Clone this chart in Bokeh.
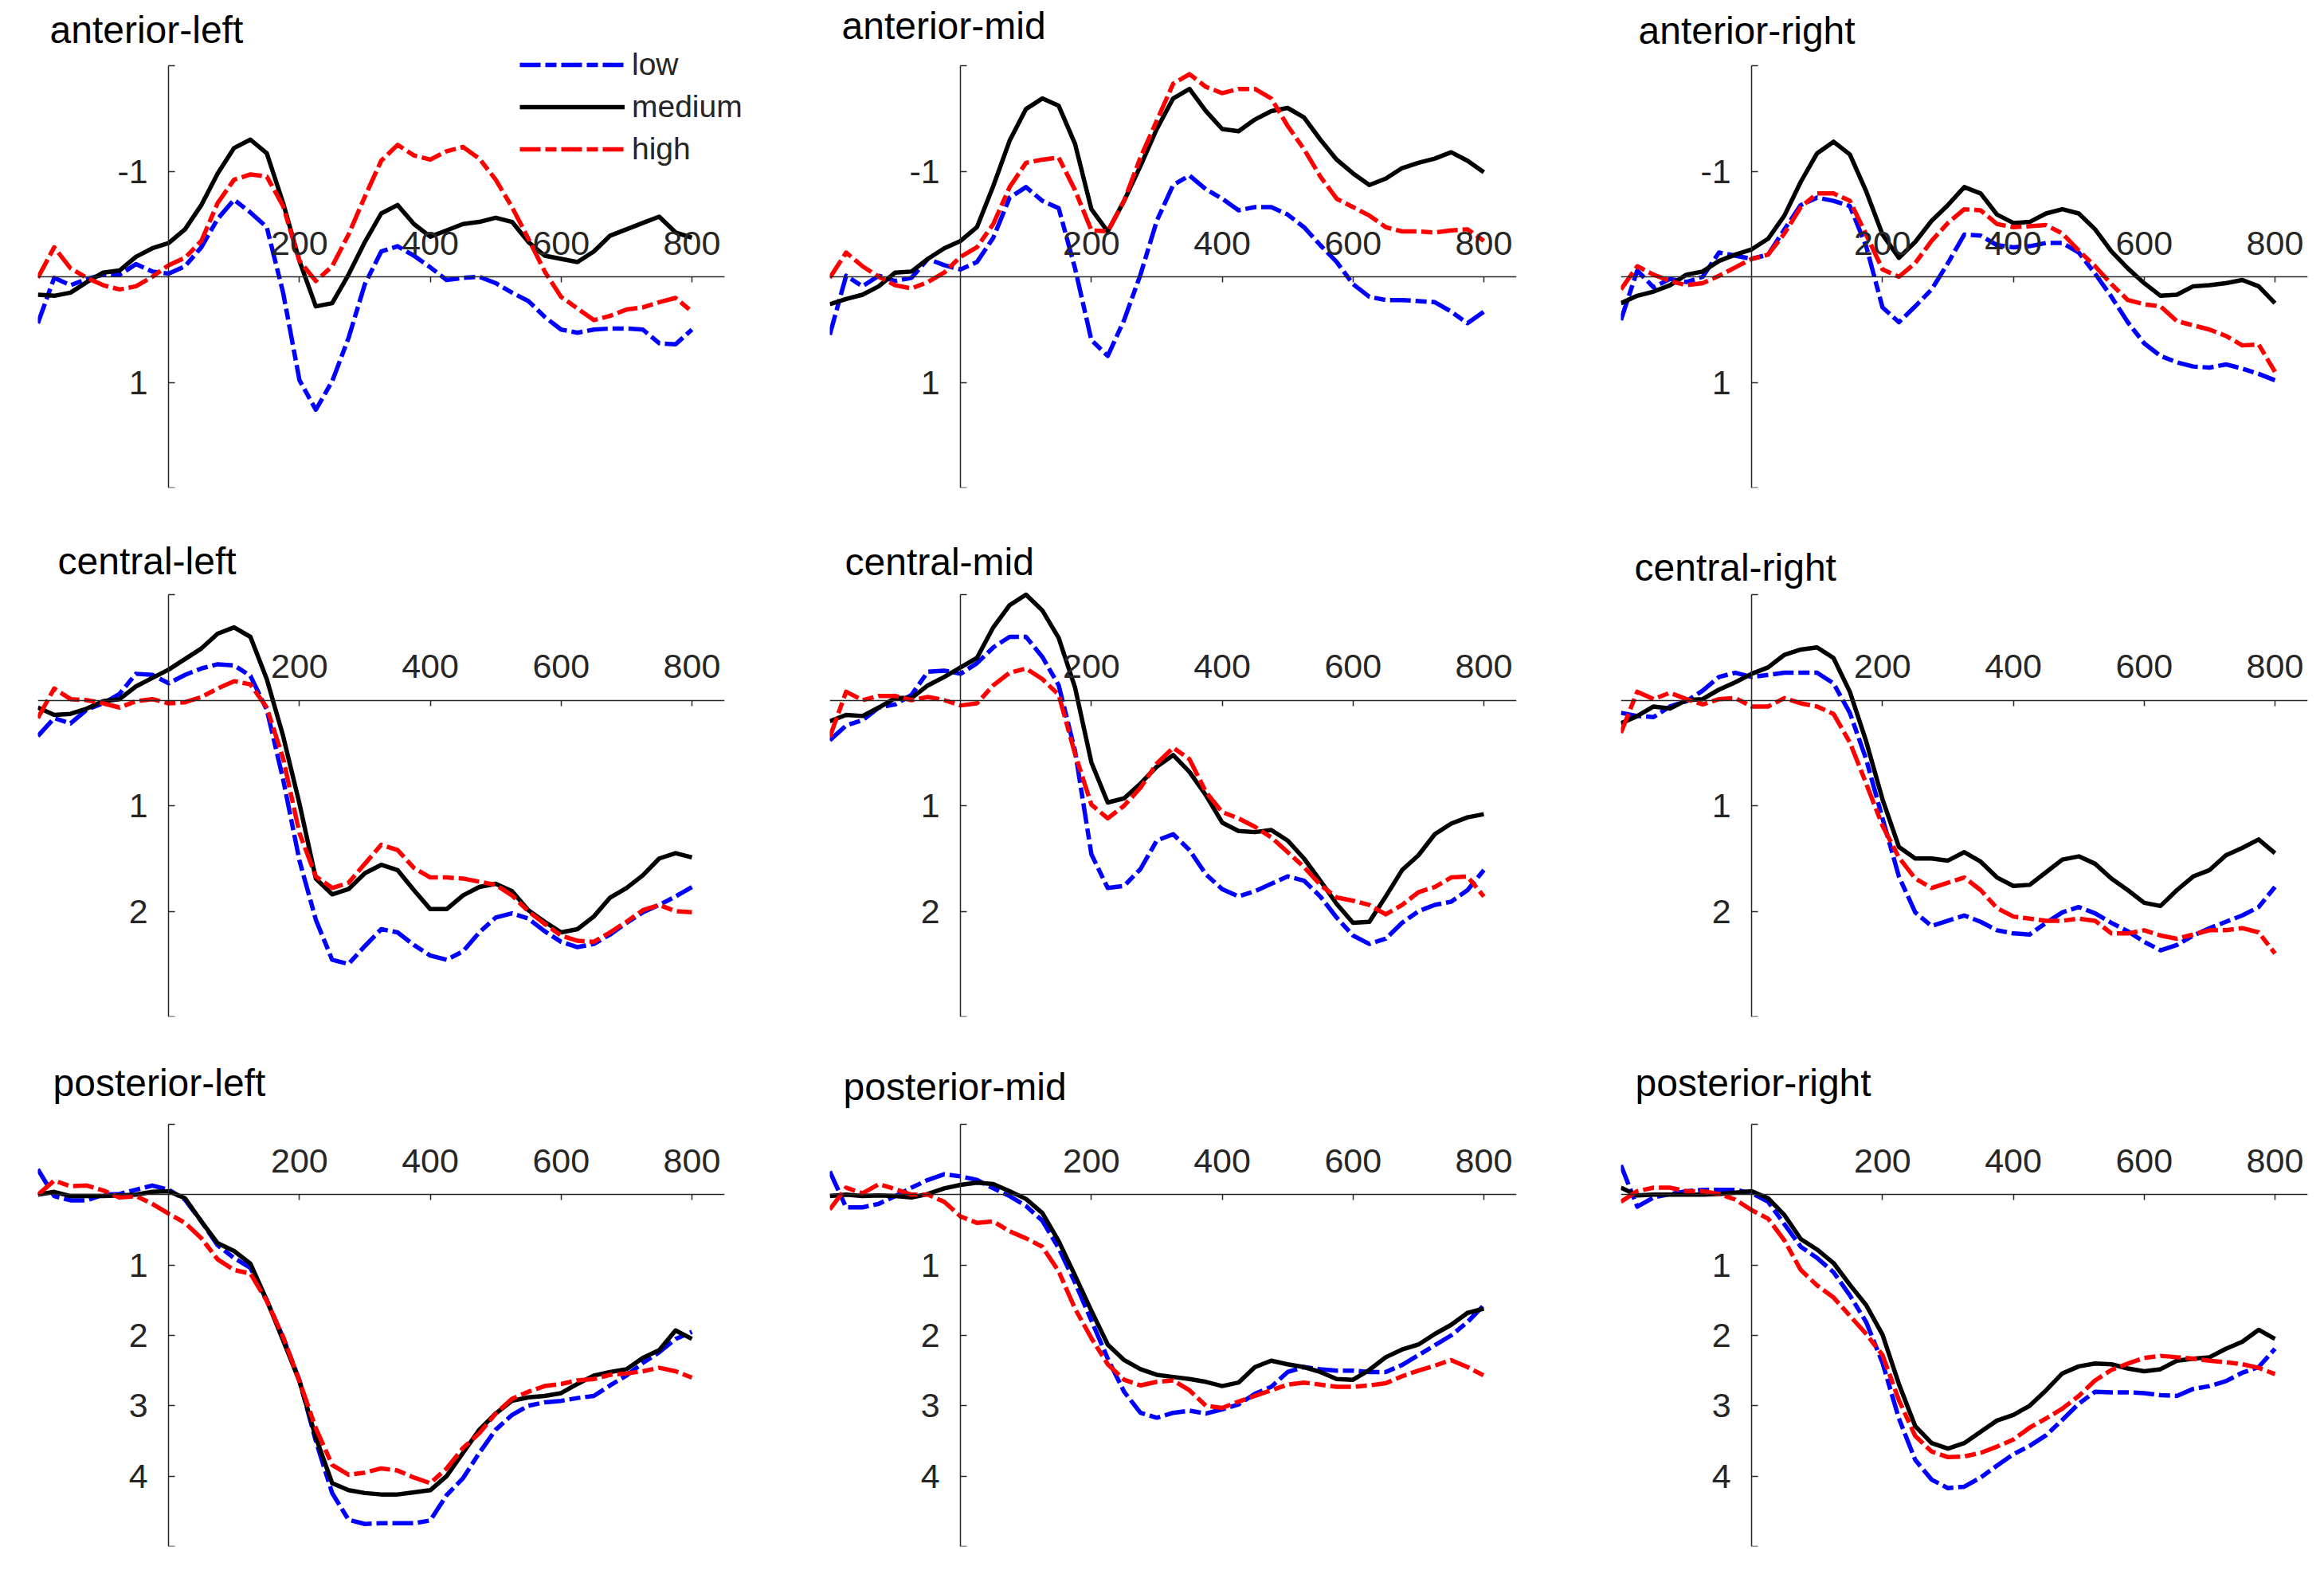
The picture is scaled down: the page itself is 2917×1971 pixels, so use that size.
from bokeh.plotting import figure
from bokeh.models import Range1d, LinearAxis, FixedTicker, Legend, LegendItem
from bokeh.layouts import column, row
from bokeh.embed import file_html
from bokeh.resources import INLINE

# ---------------- data (ms, microvolts; negative plotted upward) ----------------
time_ms = [-200, -175, -150, -125, -100, -75, -50, -25, 0, 25, 50, 75, 100, 125, 150, 175,
           200, 225, 250, 275, 300, 325, 350, 375, 400, 425, 450, 475, 500, 525, 550, 575,
           600, 625, 650, 675, 700, 725, 750, 775, 800]

x_ticks = [200, 400, 600, 800]
series_names = ["low", "medium", "high"]

anterior_left_low = [0.44, 0.01, 0.08, 0.02, -0.02, -0.02, -0.12, -0.05, -0.03, -0.10, -0.28, -0.55, -0.73, -0.61, -0.47, 0.15, 0.98, 1.26, 0.99, 0.58, 0.07, -0.24, -0.29, -0.20, -0.09, 0.03, 0.01, 0.00, 0.06, 0.15, 0.23, 0.38, 0.50, 0.53, 0.50, 0.49, 0.49, 0.50, 0.63, 0.64, 0.50]
anterior_left_medium = [0.17, 0.18, 0.15, 0.05, -0.04, -0.06, -0.19, -0.27, -0.32, -0.45, -0.68, -0.98, -1.22, -1.30, -1.17, -0.70, -0.15, 0.28, 0.25, -0.02, -0.33, -0.60, -0.68, -0.50, -0.38, -0.44, -0.50, -0.52, -0.56, -0.52, -0.33, -0.20, -0.17, -0.14, -0.24, -0.39, -0.45, -0.51, -0.57, -0.42, -0.37]
anterior_left_high = [0.01, -0.28, -0.08, 0.01, 0.08, 0.12, 0.09, 0.00, -0.11, -0.18, -0.34, -0.70, -0.92, -0.97, -0.95, -0.67, -0.15, 0.04, -0.10, -0.40, -0.76, -1.10, -1.25, -1.15, -1.11, -1.19, -1.23, -1.12, -0.92, -0.66, -0.36, -0.05, 0.19, 0.30, 0.41, 0.37, 0.31, 0.29, 0.24, 0.20, 0.33]

anterior_mid_low = [0.55, -0.01, 0.09, -0.01, 0.04, 0.01, -0.17, -0.11, -0.07, -0.14, -0.37, -0.75, -0.85, -0.72, -0.65, -0.08, 0.60, 0.75, 0.41, -0.02, -0.53, -0.87, -0.96, -0.83, -0.74, -0.63, -0.66, -0.66, -0.59, -0.47, -0.30, -0.14, 0.07, 0.19, 0.22, 0.22, 0.23, 0.24, 0.33, 0.44, 0.33]
anterior_mid_medium = [0.26, 0.21, 0.17, 0.09, -0.04, -0.05, -0.17, -0.27, -0.34, -0.47, -0.86, -1.29, -1.59, -1.69, -1.62, -1.26, -0.64, -0.43, -0.72, -1.05, -1.40, -1.69, -1.78, -1.57, -1.40, -1.38, -1.49, -1.57, -1.60, -1.51, -1.30, -1.11, -0.98, -0.87, -0.93, -1.03, -1.08, -1.12, -1.18, -1.10, -0.99]
anterior_mid_high = [0.01, -0.23, -0.10, 0.00, 0.08, 0.11, 0.05, -0.04, -0.19, -0.28, -0.50, -0.85, -1.08, -1.11, -1.13, -0.82, -0.44, -0.43, -0.72, -1.13, -1.48, -1.83, -1.92, -1.80, -1.74, -1.78, -1.78, -1.69, -1.43, -1.21, -0.95, -0.74, -0.66, -0.58, -0.47, -0.43, -0.43, -0.42, -0.44, -0.45, -0.34]

anterior_right_low = [0.41, -0.06, 0.10, 0.02, 0.05, 0.00, -0.23, -0.20, -0.17, -0.21, -0.45, -0.68, -0.75, -0.72, -0.67, -0.29, 0.29, 0.43, 0.28, 0.12, -0.13, -0.40, -0.39, -0.30, -0.28, -0.29, -0.32, -0.32, -0.23, -0.03, 0.19, 0.43, 0.63, 0.75, 0.81, 0.85, 0.86, 0.83, 0.87, 0.92, 0.98]
anterior_right_medium = [0.25, 0.18, 0.14, 0.08, -0.02, -0.05, -0.15, -0.21, -0.26, -0.36, -0.58, -0.90, -1.17, -1.28, -1.16, -0.81, -0.40, -0.18, -0.33, -0.53, -0.68, -0.85, -0.79, -0.59, -0.51, -0.52, -0.60, -0.64, -0.60, -0.45, -0.24, -0.08, 0.06, 0.18, 0.17, 0.09, 0.08, 0.06, 0.03, 0.09, 0.25]
anterior_right_high = [0.12, -0.10, -0.02, 0.04, 0.08, 0.06, -0.01, -0.09, -0.17, -0.21, -0.41, -0.66, -0.79, -0.79, -0.72, -0.40, -0.07, 0.00, -0.13, -0.34, -0.51, -0.64, -0.63, -0.50, -0.47, -0.48, -0.49, -0.41, -0.25, -0.10, 0.07, 0.22, 0.26, 0.28, 0.42, 0.46, 0.50, 0.56, 0.65, 0.64, 0.90]

central_left_low = [0.34, 0.17, 0.22, 0.09, 0.03, -0.06, -0.25, -0.24, -0.16, -0.24, -0.30, -0.34, -0.33, -0.23, 0.09, 0.75, 1.52, 2.08, 2.46, 2.50, 2.33, 2.17, 2.20, 2.32, 2.42, 2.46, 2.38, 2.20, 2.06, 2.02, 2.07, 2.19, 2.29, 2.34, 2.31, 2.22, 2.11, 2.01, 1.94, 1.86, 1.77]
central_left_medium = [0.07, 0.14, 0.13, 0.08, 0.01, -0.01, -0.13, -0.21, -0.29, -0.39, -0.49, -0.63, -0.69, -0.60, -0.20, 0.34, 0.98, 1.69, 1.84, 1.79, 1.64, 1.56, 1.61, 1.80, 1.98, 1.98, 1.85, 1.77, 1.74, 1.81, 1.99, 2.10, 2.20, 2.17, 2.05, 1.87, 1.78, 1.66, 1.50, 1.45, 1.49]
central_left_high = [0.17, -0.11, -0.01, 0.00, 0.03, 0.07, 0.01, -0.01, 0.03, 0.02, -0.03, -0.11, -0.18, -0.15, 0.07, 0.55, 1.26, 1.67, 1.78, 1.73, 1.55, 1.37, 1.42, 1.59, 1.68, 1.68, 1.69, 1.72, 1.75, 1.85, 2.00, 2.12, 2.23, 2.28, 2.29, 2.20, 2.10, 1.99, 1.94, 2.00, 2.01]

central_mid_low = [0.38, 0.24, 0.19, 0.07, 0.04, -0.05, -0.27, -0.28, -0.25, -0.35, -0.50, -0.60, -0.60, -0.41, -0.14, 0.48, 1.46, 1.78, 1.76, 1.60, 1.33, 1.27, 1.42, 1.65, 1.79, 1.86, 1.81, 1.74, 1.67, 1.71, 1.86, 2.06, 2.23, 2.31, 2.26, 2.11, 2.00, 1.94, 1.91, 1.80, 1.61]
central_mid_medium = [0.20, 0.14, 0.15, 0.07, -0.02, -0.02, -0.14, -0.22, -0.31, -0.40, -0.69, -0.90, -1.00, -0.85, -0.59, -0.12, 0.59, 0.97, 0.93, 0.79, 0.63, 0.52, 0.68, 0.90, 1.16, 1.24, 1.25, 1.23, 1.33, 1.50, 1.71, 1.93, 2.11, 2.10, 1.86, 1.61, 1.47, 1.27, 1.17, 1.11, 1.08]
central_mid_high = [0.35, -0.08, 0.00, -0.04, -0.04, 0.00, -0.03, 0.00, 0.05, 0.03, -0.14, -0.26, -0.30, -0.20, -0.05, 0.51, 0.99, 1.12, 1.00, 0.83, 0.60, 0.45, 0.56, 0.87, 1.06, 1.12, 1.20, 1.30, 1.44, 1.58, 1.75, 1.87, 1.90, 1.94, 2.03, 1.94, 1.82, 1.77, 1.68, 1.67, 1.86]

central_right_low = [0.12, 0.15, 0.16, 0.06, 0.01, -0.09, -0.22, -0.26, -0.22, -0.24, -0.26, -0.26, -0.26, -0.16, 0.12, 0.56, 1.12, 1.67, 2.01, 2.14, 2.09, 2.04, 2.10, 2.18, 2.21, 2.22, 2.11, 2.01, 1.96, 2.02, 2.11, 2.19, 2.29, 2.37, 2.32, 2.23, 2.16, 2.10, 2.04, 1.96, 1.77]
central_right_medium = [0.22, 0.15, 0.06, 0.08, 0.00, -0.01, -0.10, -0.17, -0.25, -0.31, -0.43, -0.48, -0.50, -0.40, -0.08, 0.39, 0.94, 1.39, 1.50, 1.50, 1.52, 1.44, 1.53, 1.68, 1.76, 1.75, 1.63, 1.51, 1.48, 1.55, 1.69, 1.80, 1.92, 1.95, 1.80, 1.67, 1.61, 1.47, 1.40, 1.32, 1.45]
central_right_high = [0.31, -0.08, -0.01, -0.07, -0.01, 0.04, -0.01, -0.02, 0.06, 0.06, -0.02, 0.03, 0.06, 0.13, 0.40, 0.79, 1.19, 1.49, 1.69, 1.78, 1.73, 1.68, 1.80, 1.97, 2.05, 2.07, 2.09, 2.09, 2.07, 2.09, 2.21, 2.21, 2.18, 2.23, 2.26, 2.22, 2.18, 2.18, 2.16, 2.20, 2.40]

posterior_left_low = [-0.36, 0.02, 0.08, 0.08, 0.00, -0.01, -0.07, -0.13, -0.07, 0.07, 0.38, 0.72, 0.90, 1.04, 1.50, 2.03, 2.64, 3.50, 4.24, 4.62, 4.68, 4.67, 4.67, 4.67, 4.63, 4.27, 4.03, 3.67, 3.34, 3.13, 3.00, 2.95, 2.93, 2.89, 2.86, 2.71, 2.57, 2.39, 2.24, 2.05, 1.95]
posterior_left_medium = [0.00, -0.04, 0.02, 0.02, 0.02, 0.01, 0.00, -0.04, -0.05, 0.05, 0.38, 0.69, 0.80, 0.98, 1.50, 2.07, 2.65, 3.45, 4.10, 4.20, 4.24, 4.26, 4.26, 4.23, 4.20, 4.00, 3.67, 3.34, 3.11, 2.93, 2.88, 2.86, 2.82, 2.69, 2.57, 2.52, 2.48, 2.32, 2.21, 1.93, 2.05]
posterior_left_high = [0.00, -0.20, -0.12, -0.13, -0.06, 0.04, 0.02, 0.13, 0.27, 0.40, 0.62, 0.92, 1.07, 1.12, 1.51, 2.02, 2.65, 3.32, 3.84, 3.98, 3.95, 3.89, 3.92, 4.02, 4.10, 3.89, 3.60, 3.39, 3.11, 2.90, 2.80, 2.72, 2.69, 2.64, 2.62, 2.56, 2.54, 2.51, 2.46, 2.51, 2.60]

posterior_mid_low = [-0.33, 0.18, 0.18, 0.13, 0.02, -0.10, -0.21, -0.29, -0.26, -0.21, -0.09, 0.02, 0.16, 0.37, 0.76, 1.25, 1.79, 2.33, 2.80, 3.10, 3.17, 3.10, 3.07, 3.11, 3.05, 2.98, 2.83, 2.73, 2.52, 2.45, 2.48, 2.50, 2.50, 2.52, 2.52, 2.42, 2.28, 2.14, 2.00, 1.81, 1.57]
posterior_mid_medium = [0.02, 0.00, 0.02, 0.01, 0.02, 0.04, -0.01, -0.09, -0.14, -0.17, -0.15, -0.05, 0.06, 0.26, 0.66, 1.15, 1.65, 2.13, 2.35, 2.48, 2.56, 2.59, 2.62, 2.66, 2.72, 2.67, 2.45, 2.36, 2.41, 2.45, 2.52, 2.62, 2.63, 2.49, 2.31, 2.20, 2.13, 1.98, 1.85, 1.68, 1.62]
posterior_mid_high = [0.21, -0.10, -0.02, -0.15, -0.08, 0.00, 0.00, 0.10, 0.31, 0.40, 0.38, 0.52, 0.62, 0.74, 1.09, 1.62, 2.04, 2.41, 2.63, 2.71, 2.66, 2.64, 2.78, 3.00, 3.03, 2.94, 2.86, 2.78, 2.70, 2.67, 2.70, 2.73, 2.73, 2.71, 2.68, 2.58, 2.50, 2.43, 2.35, 2.45, 2.57]

posterior_right_low = [-0.42, 0.17, 0.04, -0.01, -0.05, -0.07, -0.07, -0.07, -0.02, 0.10, 0.42, 0.74, 0.90, 1.10, 1.43, 1.81, 2.39, 3.18, 3.77, 4.05, 4.17, 4.15, 4.02, 3.85, 3.69, 3.57, 3.42, 3.20, 2.97, 2.80, 2.81, 2.81, 2.82, 2.85, 2.86, 2.76, 2.72, 2.65, 2.53, 2.45, 2.19]
posterior_right_medium = [-0.10, 0.01, 0.00, 0.00, 0.00, 0.00, -0.01, -0.03, -0.05, 0.05, 0.29, 0.63, 0.78, 0.97, 1.28, 1.57, 1.99, 2.69, 3.29, 3.53, 3.61, 3.53, 3.37, 3.21, 3.13, 3.00, 2.78, 2.54, 2.44, 2.40, 2.41, 2.47, 2.51, 2.48, 2.36, 2.33, 2.31, 2.19, 2.09, 1.92, 2.05]
posterior_right_high = [0.10, -0.05, -0.10, -0.10, -0.05, -0.05, -0.01, 0.07, 0.22, 0.34, 0.65, 1.07, 1.29, 1.46, 1.72, 1.98, 2.28, 2.92, 3.43, 3.65, 3.73, 3.72, 3.67, 3.58, 3.48, 3.31, 3.18, 3.04, 2.86, 2.64, 2.49, 2.40, 2.32, 2.29, 2.31, 2.33, 2.36, 2.38, 2.41, 2.46, 2.55]

# y-axis settings per row: (bottom, top) of the reversed axis, tick positions, labelled ticks
anterior_y = (2, -2, [-2, -1, 1, 2], [-1, 1])
central_y = (3, -1, [-1, 1, 2, 3], [1, 2])
posterior_y = (5, -1, [-1, 1, 2, 3, 4, 5], [1, 2, 3, 4])

panels = [
    ("anterior-left", anterior_left_low, anterior_left_medium, anterior_left_high, anterior_y),
    ("anterior-mid", anterior_mid_low, anterior_mid_medium, anterior_mid_high, anterior_y),
    ("anterior-right", anterior_right_low, anterior_right_medium, anterior_right_high, anterior_y),
    ("central-left", central_left_low, central_left_medium, central_left_high, central_y),
    ("central-mid", central_mid_low, central_mid_medium, central_mid_high, central_y),
    ("central-right", central_right_low, central_right_medium, central_right_high, central_y),
    ("posterior-left", posterior_left_low, posterior_left_medium, posterior_left_high, posterior_y),
    ("posterior-mid", posterior_mid_low, posterior_mid_medium, posterior_mid_high, posterior_y),
    ("posterior-right", posterior_right_low, posterior_right_medium, posterior_right_high, posterior_y),
]

# ---------------- styling / layout ----------------
FONT = "Liberation Sans"
INK = "#262626"
LINE_W = 5.5
DASHDOT = "26 6 14 6"
colors = {"low": "#0000ff", "medium": "#000000", "high": "#ff0000"}

X_START, X_END = -200, 850
FRAME_W, FRAME_H = 862, 530
PX_PER_MS = FRAME_W / (X_END - X_START)
col_borders = [(47, 93), (39, 92), (39, 8)]
row_borders = [(82, 44), (90, 45), (90, 15)]      # top border measured to the axes' top
title_offsets = [15, 15, 22, 25, 19, 17, 19, 17, 18]
title_gaps = [19, 24, 17.5, 16, 14.5, 8, 26, 21, 26]  # px between title bottom and axes top

# every panel gets some empty room above its axes (so the legend, which pokes
# above the first axes, is not clipped); first panel: extra room to the right.
TOP_EXTRA_PX = 26
LEG_EXTRA_X_MS = 30

figs = []
for i, (name, low, medium, high, ycfg) in enumerate(panels):
    r, c = divmod(i, 3)
    y_bottom, y_top, yticks, ylabelled = ycfg
    b_left, b_right = col_borders[c]
    b_top, b_bottom = row_borders[r]
    px_per_unit = FRAME_H / abs(y_bottom - y_top)
    y_end = y_top - TOP_EXTRA_PX / px_per_unit
    fh = FRAME_H + TOP_EXTRA_PX
    b_top -= TOP_EXTRA_PX
    standoff = 2 * (title_gaps[i] - TOP_EXTRA_PX)
    fw, x_end = FRAME_W, X_END
    if i == 0:
        extra_w = round(LEG_EXTRA_X_MS * PX_PER_MS)
        x_end = X_END + extra_w / PX_PER_MS
        fw = FRAME_W + extra_w
        b_right -= extra_w
    p = figure(title=name, frame_width=fw, frame_height=fh,
               x_range=Range1d(X_START, x_end), y_range=Range1d(y_bottom, y_end),
               x_axis_type=None, y_axis_type=None, toolbar_location=None,
               output_backend="svg",
               min_border_left=b_left, min_border_right=b_right,
               min_border_top=b_top, min_border_bottom=b_bottom)
    p.outline_line_color = None
    p.title.align = "left"
    p.title.offset = title_offsets[i]
    p.title.standoff = standoff
    p.title.text_font = FONT
    p.title.text_font_size = "48px"
    p.title.text_font_style = "normal"
    p.title.text_color = "#000000"

    xax = LinearAxis(fixed_location=0, ticker=FixedTicker(ticks=x_ticks),
                     bounds=(X_START, X_END),
                     major_tick_in=7, major_tick_out=0, minor_tick_in=0, minor_tick_out=0,
                     major_label_standoff=28, major_label_text_font=FONT,
                     major_label_text_font_size="43px", major_label_text_color=INK,
                     axis_line_color=INK, axis_line_width=1.5,
                     major_tick_line_color=INK, major_tick_line_width=1.5)
    p.add_layout(xax, "above")

    overrides = {t: ("" if t not in ylabelled else str(t)) for t in yticks}
    yax = LinearAxis(fixed_location=0, ticker=FixedTicker(ticks=yticks),
                     bounds=(min(y_bottom, y_top), max(y_bottom, y_top)),
                     major_label_overrides=overrides,
                     major_tick_in=8, major_tick_out=0, minor_tick_in=0, minor_tick_out=0,
                     major_label_standoff=26, major_label_text_font=FONT,
                     major_label_text_font_size="43px", major_label_text_color=INK,
                     axis_line_color=INK, axis_line_width=1.5,
                     major_tick_line_color=INK, major_tick_line_width=1.5)
    p.add_layout(yax, "left")

    rl = p.line(time_ms, low, line_color=colors["low"], line_width=LINE_W,
                line_dash=DASHDOT, line_join="round")
    rm = p.line(time_ms, medium, line_color=colors["medium"], line_width=LINE_W,
                line_join="round")
    rh = p.line(time_ms, high, line_color=colors["high"], line_width=LINE_W,
                line_dash=DASHDOT, line_join="round")

    if i == 0:
        legend = Legend(items=[LegendItem(label=series_names[0], renderers=[rl]),
                               LegendItem(label=series_names[1], renderers=[rm]),
                               LegendItem(label=series_names[2], renderers=[rh])],
                        location=(605, 402), orientation="vertical",
                        glyph_width=132, glyph_height=46, label_height=46,
                        label_standoff=9, spacing=7, padding=0, margin=0,
                        label_text_font=FONT, label_text_font_size="39px",
                        label_text_color=INK, background_fill_alpha=0,
                        border_line_alpha=0)
        p.add_layout(legend)
    figs.append(p)

layout = column(row(figs[0], figs[1], figs[2]),
                row(figs[3], figs[4], figs[5]),
                row(figs[6], figs[7], figs[8]))

open("out.html", "w").write(file_html(layout, INLINE))
